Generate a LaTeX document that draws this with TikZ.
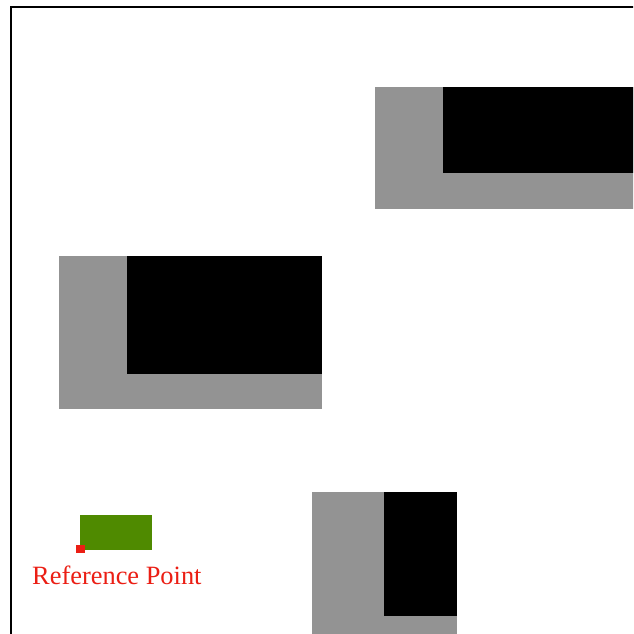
\documentclass[tikz,border=0pt]{standalone}
\usepackage{fontspec}
\setmainfont{Liberation Serif}
\definecolor{obsgray}{RGB}{147,147,147}
\definecolor{robgreen}{RGB}{79,138,0}
\definecolor{refred}{RGB}{235,30,20}
\tikzset{
  inflated/.style={fill=obsgray, draw=none},
  obstacle/.style={fill=black, draw=none},
  frameline/.style={draw=black, line width=2.5pt, line cap=rect},
}
\begin{document}
\begin{tikzpicture}[x=1pt,y=-1pt]
\useasboundingbox (0,0) rectangle (633,634);
\clip (0,0) rectangle (633,634);
\fill[white] (0,0) rectangle (633,634);
% frame
\draw[frameline] (11,640) -- (11,7) -- (640,7);
% top-right obstacle
\fill[inflated] (375,87) rectangle (640,209);
\fill[obstacle] (443,87) rectangle (640,173);
% middle-left obstacle
\fill[inflated] (59,256) rectangle (322,409);
\fill[obstacle] (127,256) rectangle (322,374);
% bottom obstacle
\fill[inflated] (312,492) rectangle (457,640);
\fill[obstacle] (384,492) rectangle (457,616);
% robot
\fill[robgreen] (80,515) rectangle (152,550);
\fill[refred] (76,545) rectangle (85,553);
\node[text=refred, font=\fontsize{26.4}{28}\selectfont, anchor=base west, inner sep=0pt] (reflabel) at (32,584) {Reference Point};
\end{tikzpicture}
\end{document}
